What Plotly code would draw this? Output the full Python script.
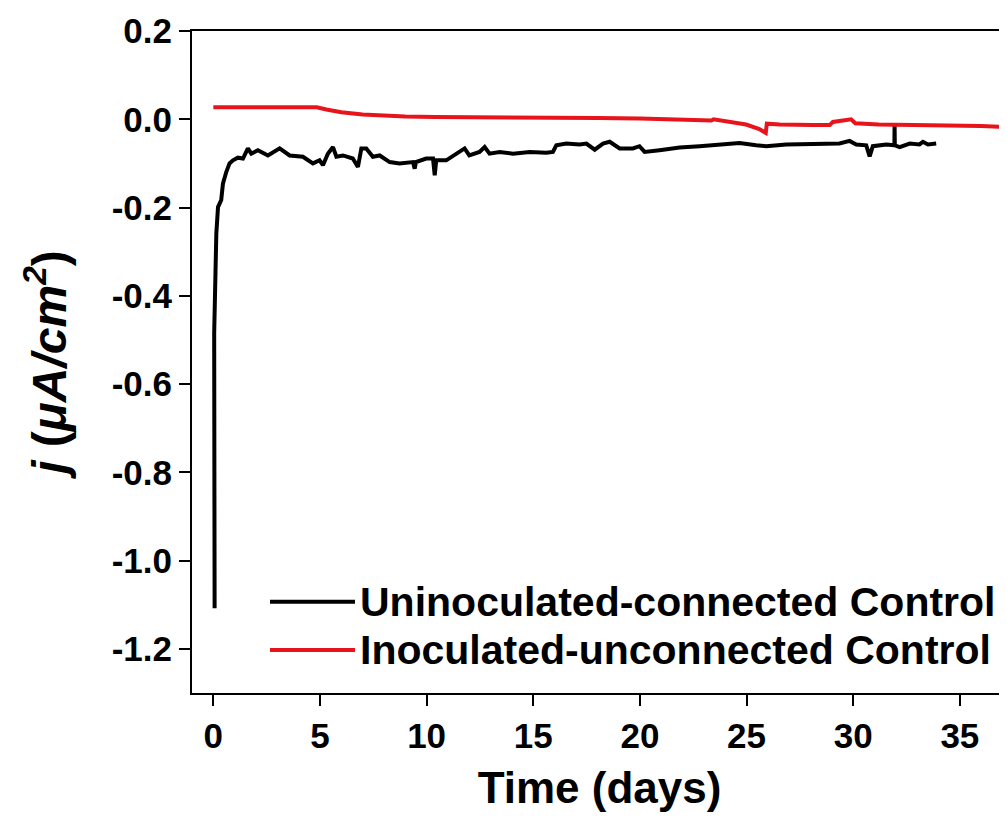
import plotly.graph_objects as go

# ---- data ----
black_x = [0.06, 0.04, 0.14, 0.22, 0.37, 0.45, 0.61, 0.76, 0.92, 1.15, 1.39, 1.62, 1.78, 2.09, 2.56,
           3.11, 3.58, 4.2, 4.67, 4.98, 5.14, 5.37, 5.61, 5.77, 6.08, 6.54, 6.78, 6.94, 7.17, 7.48,
           7.8, 8.27, 8.73, 9.36, 9.44, 9.5, 9.98, 10.3, 10.38, 10.45, 10.92, 11.39, 11.78, 12.0,
           12.48, 12.72, 12.95, 13.42, 14.05, 14.83, 15.61, 15.92, 16.08, 16.55, 17.17, 17.49,
           17.88, 18.27, 18.58, 19.05, 19.67, 19.98, 20.22, 20.92, 21.86, 22.8, 23.73, 24.67,
           25.45, 25.92, 26.86, 28.11, 29.36, 29.83, 30.14, 30.61, 30.77, 30.92, 31.55, 31.93,
           31.94, 31.95, 32.18, 32.65, 33.11, 33.27, 33.5, 33.89]
black_y = [-1.108, -0.485, -0.259, -0.199, -0.183, -0.146, -0.119, -0.100, -0.093, -0.087, -0.089,
           -0.066, -0.078, -0.070, -0.082, -0.066, -0.082, -0.085, -0.100, -0.093, -0.104, -0.078,
           -0.063, -0.085, -0.082, -0.089, -0.108, -0.066, -0.066, -0.085, -0.082, -0.097, -0.100,
           -0.097, -0.112, -0.097, -0.089, -0.089, -0.127, -0.093, -0.093, -0.078, -0.066, -0.082,
           -0.074, -0.063, -0.078, -0.074, -0.078, -0.074, -0.076, -0.074, -0.059, -0.055, -0.057,
           -0.055, -0.069, -0.055, -0.051, -0.066, -0.066, -0.061, -0.074, -0.070, -0.064, -0.061,
           -0.057, -0.054, -0.059, -0.061, -0.057, -0.057, -0.055, -0.049, -0.057, -0.059, -0.084,
           -0.061, -0.057, -0.059, -0.011, -0.059, -0.063, -0.055, -0.057, -0.051, -0.057, -0.055]

red_x = [0.0, 4.85, 5.3, 6.0, 7.0, 8.0, 9.0, 10.4, 12.0, 14.0, 16.0, 18.0, 20.0, 22.0, 23.35, 23.45,
         24.2, 24.98, 25.6, 25.9, 25.95, 26.55, 28.1, 28.9, 29.05, 29.5, 29.9, 30.1, 31.2, 32.8,
         34.4, 36.0, 36.9, 37.2, 37.5]
red_y = [0.027, 0.027, 0.022, 0.016, 0.011, 0.008, 0.006, 0.005, 0.005, 0.004, 0.003, 0.003, 0.002,
         0.0, -0.003, 0.0, -0.005, -0.012, -0.022, -0.031, -0.010, -0.012, -0.013, -0.013, -0.006,
         -0.002, 0.0, -0.009, -0.012, -0.013, -0.013, -0.015, -0.017, -0.020, -0.022]

series_names = ["Uninoculated-connected Control", "Inoculated-unconnected Control"]
series_colors = ["#000000", "#e8141c"]

x_ticks = [0, 5, 10, 15, 20, 25, 30, 35]
y_ticks = [0.2, 0.0, -0.2, -0.4, -0.6, -0.8, -1.0, -1.2]
y_tick_text = ["0.2", "0.0", "-0.2", "-0.4", "-0.6", "-0.8", "-1.0", "-1.2"]

FONT = "Liberation Sans, Arial, sans-serif"

fig = go.Figure()
fig.add_trace(go.Scatter(x=black_x, y=black_y, mode="lines", name=series_names[0],
                         line=dict(color=series_colors[0], width=4), showlegend=False))
fig.add_trace(go.Scatter(x=red_x, y=red_y, mode="lines", name=series_names[1],
                         line=dict(color=series_colors[1], width=4), showlegend=False))

# manual legend (long line samples as in the reference)
leg_rows = [0.138, 0.065]
for name, color, yy in zip(series_names, series_colors, leg_rows):
    fig.add_shape(type="line", xref="paper", yref="paper", x0=0.0957, x1=0.2, y0=yy, y1=yy,
                  line=dict(color=color, width=4))
    fig.add_annotation(xref="paper", yref="paper", x=0.204, y=yy, text=name, showarrow=False,
                       xanchor="left", yanchor="middle",
                       font=dict(family=FONT, size=41, color="black", weight="bold"))

# page body has an 8px margin: size the figure so the plot area lands where the reference has it
fig.update_layout(
    width=999, height=811,
    margin=dict(l=184, r=0, t=23, b=126),
    paper_bgcolor="white", plot_bgcolor="white",
    showlegend=False,
)
fig.update_xaxes(
    range=[-1, 37.21], tickvals=x_ticks, ticks="outside", ticklen=11, tickwidth=2,
    tickcolor="black", showline=True, linewidth=2, linecolor="black", mirror=True,
    showgrid=False, zeroline=False,
    tickfont=dict(family=FONT, size=35, color="black", weight="bold"),
    title=dict(text="Time (days)", standoff=18,
               font=dict(family=FONT, size=44, color="black", weight="bold")),
)
fig.update_yaxes(
    range=[-1.3, 0.2], tickvals=y_ticks, ticktext=y_tick_text, ticks="outside", ticklen=11,
    tickwidth=2, tickcolor="black", showline=True, linewidth=2, linecolor="black", mirror=False,
    showgrid=False, zeroline=False,
    tickfont=dict(family=FONT, size=35, color="black", weight="bold"),
    title=dict(text="<i>j</i> (<i>μA/cm<sup>2</sup></i>)", standoff=30,
               font=dict(family=FONT, size=48, color="black", weight="bold")),
)

fig.write_html("out.html")
